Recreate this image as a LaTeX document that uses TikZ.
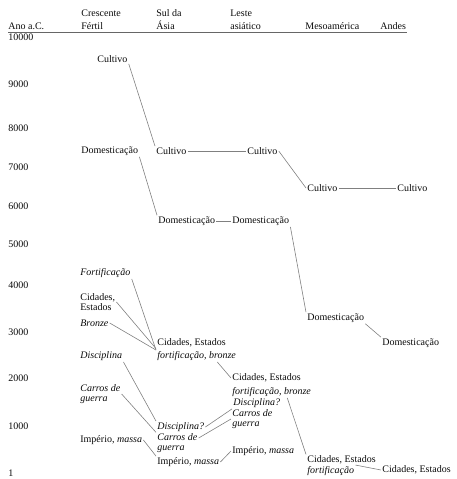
\documentclass[tikz,border=0pt]{standalone}
\usepackage{fontspec}
\setmainfont{Liberation Serif}
\usepackage{tikz}
\definecolor{mygray}{RGB}{128,128,128}
\definecolor{mytext}{RGB}{10,10,10}
\tikzset{every picture/.style={line width=0.75pt}}
\tikzset{
  mylabel/.style={anchor=west, inner sep=1pt, text=mytext, align=left, font=\fontsize{10}{9.5}\selectfont},
  myhead/.style={mylabel, font=\fontsize{10}{13}\selectfont},
  myline/.style={draw=mygray, line width=0.6pt}
}

\begin{document}
\begin{tikzpicture}[x=1pt,y=1pt,yscale=-1]
\useasboundingbox (0,0) rectangle (456,479);

% Header
\draw (7,26) node [myhead] (hano) {Ano a.C.};
\draw (80,19.5) node [myhead] (hcres) {Crescente\\Fértil};
\draw (155,19.5) node [myhead] (hsul) {Sul da\\Ásia};
\draw (229,19.5) node [myhead] (hleste) {Leste\\asiático};
\draw (304,26) node [myhead] (hmeso) {Mesoamérica};
\draw (379,26) node [myhead] (handes) {Andes};
\draw [myline, draw=mygray!80!black, line width=0.7pt] (8,32) -- (407,32);

% Years
\draw (7,37) node [mylabel] (y10000) {10000};
\draw (7,84) node [mylabel] (y9000) {9000};
\draw (7,128) node [mylabel] (y8000) {8000};
\draw (7,167) node [mylabel] (y7000) {7000};
\draw (7,206) node [mylabel] (y6000) {6000};
\draw (7,244) node [mylabel] (y5000) {5000};
\draw (7,285) node [mylabel] (y4000) {4000};
\draw (7,332) node [mylabel] (y3000) {3000};
\draw (7,378) node [mylabel] (y2000) {2000};
\draw (7,426) node [mylabel] (y1000) {1000};
\draw (7,473) node [mylabel] (y1) {1};

% Crescente Fertil
\draw (96,59) node [mylabel] (fccult) {Cultivo};
\draw (80,151) node [mylabel] (fcdom) {Domesticação};
\draw (79,273) node [mylabel] (fcfort) {\textit{Fortificação}};
\draw (79,302) node [mylabel] (fccid) {Cidades,\\Estados};
\draw (79,323) node [mylabel] (fcbron) {\textit{Bronze}};
\draw (79,356) node [mylabel] (fcdisc) {\textit{Disciplina}};
\draw (79,394) node [mylabel] (fccarr) {\textit{Carros de}\\\textit{guerra}};
\draw (79,440) node [mylabel] (fcimp) {Império, \textit{massa}};

% Sul da Asia
\draw (155,151) node [mylabel] (sacult) {Cultivo};
\draw (157,221) node [mylabel] (sadom) {Domesticação};
\draw (156,343) node [mylabel] (sacid) {Cidades, Estados};
\draw (156,356) node [mylabel] (safort) {\textit{fortificação, bronze}};
\draw (156,427) node [mylabel] (sadisc) {\textit{Disciplina?}};
\draw (156,443) node [mylabel] (sacarr) {\textit{Carros de}\\\textit{guerra}};
\draw (156,462) node [mylabel] (saimp) {Império, \textit{massa}};

% Leste asiatico
\draw (246,151) node [mylabel] (lacult) {Cultivo};
\draw (231,221) node [mylabel] (ladom) {Domesticação};
\draw (231,378) node [mylabel] (lacid) {Cidades, Estados};
\draw (231,392) node [mylabel] (lafort) {\textit{fortificação, bronze}};
\draw (232,403) node [mylabel] (ladisc) {\textit{Disciplina?}};
\draw (231,419) node [mylabel] (lacarr) {\textit{Carros de}\\\textit{guerra}};
\draw (231,451) node [mylabel] (laimp) {Império, \textit{massa}};

% Mesoamerica
\draw (306,188) node [mylabel] (macult) {Cultivo};
\draw (306,318) node [mylabel] (madom) {Domesticação};
\draw (306,460) node [mylabel] (macid) {Cidades, Estados};
\draw (306,471) node [mylabel] (mafort) {\textit{fortificação}};

% Andes
\draw (396,188) node [mylabel] (ancult) {Cultivo};
\draw (381,343) node [mylabel] (andom) {Domesticação};
\draw (381,470) node [mylabel] (ancid) {Cidades, Estados};

% Connectors
\draw [myline] (fccult.south east) -- (sacult.north west);
\draw [myline] (fcdom.south east) -- (sadom.north west);
\draw [myline] (sacult.east) -- (lacult.west);
\draw [myline] (lacult.east) -- (macult.west);
\draw [myline] (macult.east) -- (ancult.west);
\draw [myline] (sadom.east) -- (ladom.west);
\draw [myline] (ladom.south east) -- (madom.north west);
\draw [myline] (madom.south east) -- (andom.north west);
\draw [myline] (fcfort.south east) -- (safort.north west);
\draw [myline] (fccid.east) -- (sacid.south west);
\draw [myline] (fcbron.east) -- (safort.north west);
\draw [myline] ([xshift=-20pt]safort.south east) -- (lacid.west);
\draw [myline] (fcdisc.south east) -- (sadisc.north west);
\draw [myline] (fccarr.east) -- (sacarr.north west);
\draw [myline] (fcimp.east) -- (saimp.north west);
\draw [myline] (sadisc.east) -- (ladisc.south west);
\draw [myline] ([yshift=-5pt]sacarr.east) -- (lacarr.west);
\draw [myline] (saimp.east) -- (laimp.west);
\draw [myline] ([xshift=-25pt]lafort.south east) -- (macid.north west);
\draw [myline] (mafort.north east) -- (ancid.west);

\end{tikzpicture}
\end{document}
